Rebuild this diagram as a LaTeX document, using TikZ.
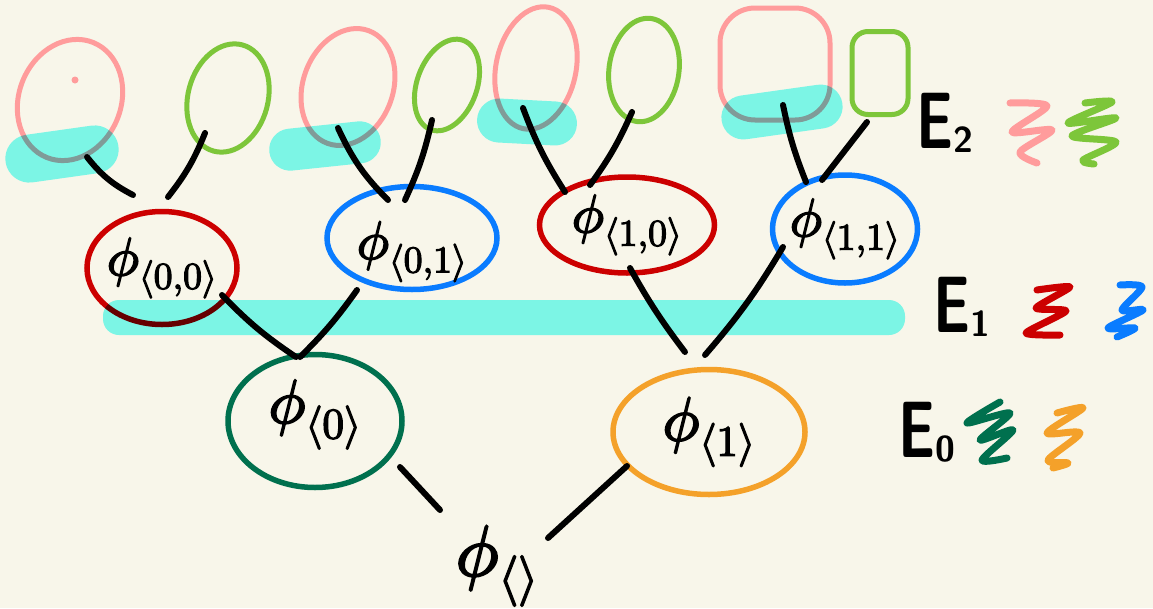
\documentclass[tikz,border=0pt]{standalone}
\usepackage{graphicx}
\usepackage{unicode-math}
\setmathfont{Latin Modern Math}
\setmathfont{Latin Modern Math}[version=heavy, FakeBold=3]
\usetikzlibrary{shapes.geometric,calc}
\definecolor{bgc}{HTML}{F8F6EA}
\definecolor{cred}{HTML}{CC0000}
\definecolor{cblue}{HTML}{0A7CFF}
\definecolor{cgreen}{HTML}{00704E}
\definecolor{corange}{HTML}{F4A12A}
\definecolor{cpink}{HTML}{FF9C9C}
\definecolor{clime}{HTML}{7DC63A}
\definecolor{hlcyan}{HTML}{80FEFA}
\newcommand\philab[1]{\begingroup\mathversion{heavy}$\phi_{\langle #1\rangle}$\endgroup}
\newcommand\Elab[1]{\scalebox{0.72}[1]{\fontsize{80}{80}\selectfont\sffamily\bfseries E}\raisebox{-4pt}{\fontsize{36}{36}\selectfont\sffamily\bfseries #1}}
\begin{document}
\begin{tikzpicture}[x=1pt,y=-1pt,
  link/.style={line width=6pt, line cap=round, line join=round, black},
  oval/.style={ellipse, draw, line width=5.5pt, inner sep=-14pt, font=\fontsize{54}{54}\selectfont},
  bigoval/.style={oval, font=\fontsize{62}{62}\selectfont},
  leaf/.style={ellipse, draw, line width=5pt, inner sep=0pt},
  leafbox/.style={rectangle, draw, line width=5pt, inner sep=0pt},
  hl/.style={fill=hlcyan, blend mode=multiply},
  zig/.style={line width=7pt, line cap=round, line join=round}]
\useasboundingbox (0,0) rectangle (1153,608);
\fill[bgc] (0,0) rectangle (1153,608);

% tree nodes
\node[bigoval, draw=cgreen, minimum width=174pt, minimum height=133pt, text height=40pt, text depth=36pt] (n0) at (315,421) {\philab{0}};
\node[bigoval, draw=corange, minimum width=192pt, minimum height=125pt] (n1) at (709,432) {\philab{1}};
\node[oval, draw=cred, minimum width=150pt, minimum height=113pt] (n00) at (162,268) {\philab{0,0}};
\node[oval, draw=cblue, minimum width=170pt, minimum height=103pt, text height=60pt, text depth=18pt] (n01) at (412,238) {\philab{0,1}};
\node[oval, draw=cred, minimum width=175pt, minimum height=96pt] (n10) at (627,225) {\philab{1,0}};
\node[oval, draw=cblue, minimum width=145pt, minimum height=108pt] (n11) at (845,229) {\philab{1,1}};
\node[font=\fontsize{72}{72}\selectfont, inner sep=0pt] (root) at (497,566) {\philab{}};

% leaves
\node[leaf, draw=cpink, minimum width=102pt, minimum height=124pt, rotate=-22] (l1) at (70,100) {};
\node[leaf, draw=clime, minimum width=80pt, minimum height=110pt, rotate=-15] (l2) at (228,98) {};
\node[leaf, draw=cpink, minimum width=90pt, minimum height=120pt, rotate=-20] (l3) at (348,87) {};
\node[leaf, draw=clime, minimum width=60pt, minimum height=95pt, rotate=-20] (l4) at (447,85) {};
\node[leaf, draw=cpink, minimum width=80pt, minimum height=124pt, rotate=-12] (l5) at (536,68) {};
\node[leaf, draw=clime, minimum width=70pt, minimum height=104pt, rotate=-8] (l6) at (644,70) {};
\node[leafbox, draw=cpink, minimum width=110pt, minimum height=112pt, rounded corners=35pt] (l7) at (775,64) {};
\node[leafbox, draw=clime, minimum width=56pt, minimum height=83pt, rounded corners=16pt] (l8) at (880,73) {};
\fill[cpink] (75,80) circle (3.5pt);

% highlights
\fill[hl, rounded corners=24pt, rotate around={8:(62,154)}] (5,130) rectangle (119,178);
\fill[hl, rounded corners=21pt, rotate around={6:(325,146)}] (269,125) rectangle (381,167);
\fill[hl, rounded corners=22pt, rotate around={-3:(527,122)}] (477,100) rectangle (577,144);
\fill[hl, rounded corners=22pt, rotate around={8:(782,112)}] (721,90) rectangle (843,134);
\fill[hl, rounded corners=16pt] (103,300) rectangle (905,335);

% connectors
\draw[link] ([shift={(85,46)}]n0.center) -- ([shift={(-57,-56)}]root.center);
\draw[link] ([shift={(51,-28)}]root.center) -- ([shift={(-82,34)}]n1.center);
\draw[link] ([shift={(-19,-64)}]n0.center) to[bend left=6] ([shift={(60,27)}]n00.center);
\draw[link] ([shift={(-15,-64)}]n0.center) to[bend right=5] ([shift={(-55,52)}]n01.center);
\draw[link] ([shift={(-24,-80)}]n1.center) to[bend left=4] ([shift={(3,43)}]n10.center);
\draw[link] ([shift={(-4,-77)}]n1.center) to[bend right=5] ([shift={(-62,18)}]n11.center);
\draw[link] ([shift={(-29,-73)}]n00.center) to[bend left=12] ([shift={(17,57)}]l1.center);
\draw[link] ([shift={(6,-71)}]n00.center) to[bend right=8] ([shift={(-23,35)}]l2.center);
\draw[link] ([shift={(-24,-38)}]n01.center) to[bend left=10] ([shift={(-10,41)}]l3.center);
\draw[link] ([shift={(-7,-38)}]n01.center) to[bend right=6] ([shift={(-15,35)}]l4.center);
\draw[link] ([shift={(-62,-33)}]n10.center) to[bend left=6] ([shift={(-13,40)}]l5.center);
\draw[link] ([shift={(-37,-40)}]n10.center) to[bend right=6] ([shift={(-12,42)}]l6.center);
\draw[link] ([shift={(-39,-47)}]n11.center) to[bend left=5] ([shift={(8,41)}]l7.center);
\draw[link] ([shift={(-23,-49)}]n11.center) -- ([shift={(-13,49)}]l8.center);

% legend
\node[anchor=base west, inner sep=0pt] (e2) at (916,148) {\Elab{2}};
\node[anchor=base west, inner sep=0pt] (e1) at (933,332) {\Elab{1}};
\node[anchor=base west, inner sep=0pt] (e0) at (898,457) {\Elab{0}};

\draw[zig, cpink] plot[smooth, tension=0.5] coordinates {(1010,103) (1047,106) (1012,132) (1052,130) (1020,152) (1037,163)};
\draw[zig, clime] plot[smooth, tension=0.5] coordinates {(1085,103) (1112,102) (1068,123) (1116,118) (1072,136) (1116,142) (1083,160) (1094,164)};
\draw[zig, cred] plot[smooth, tension=0.4] coordinates {(1037,290) (1070,287) (1036,308) (1066,311) (1026,333) (1060,335)};
\draw[zig, cblue] plot[smooth, tension=0.5] coordinates {(1120,285) (1142,287) (1122,310) (1143,310) (1108,328) (1135,328) (1117,337)};
\draw[zig, cgreen] plot[smooth, tension=0.5] coordinates {(1000,402) (967,423) (1010,413) (980,440) (1013,430) (982,460) (1007,458)};
\draw[zig, corange] plot[smooth, tension=0.5] coordinates {(1057,413) (1083,408) (1047,433) (1080,433) (1048,460) (1068,463) (1053,468)};
\end{tikzpicture}
\end{document}
